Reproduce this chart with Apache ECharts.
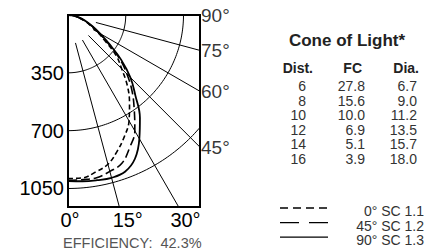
<!DOCTYPE html>
<html>
<head>
<meta charset="utf-8">
<script src="https://cdn.jsdelivr.net/npm/echarts@6/dist/echarts.min.js"></script>
<style>
  html, body { margin: 0; padding: 0; background: #fff; }
  #chart { width: 437px; height: 251px; }
</style>
</head>
<body>
<div id="chart"></div>
<script>
// candela distribution (angle from nadir, degrees)
const angles = [0, 5, 10, 15, 20, 25, 30, 35, 40, 45, 50, 55, 60, 65, 70, 75, 80, 85, 90];
const sc0  = [990, 990, 965, 935, 875, 810, 740, 650, 560, 460, 380, 275, 205, 150, 110, 75, 50, 25, 0];
const sc45 = [1000, 1000, 1000, 980, 955, 885, 810, 700, 605, 505, 405, 295, 215, 160, 115, 80, 50, 25, 0];
const sc90 = [1005, 1010, 1015, 1020, 1010, 960, 865, 760, 635, 535, 420, 305, 225, 165, 120, 85, 55, 30, 0];
const seriesNames = ['0° SC 1.1', '45° SC 1.2', '90° SC 1.3'];

// grid rings / rays
const ringValues = [350, 700, 1050];
const rayAngles = [15, 30, 45, 60, 75];
const edgeLabelAngles = [90, 75, 60, 45];
const bottomLabels = { 0: '0°', 350: '15°', 700: '30°' };

// cone of light table
const coneDist = ['6', '8', '10', '12', '14', '16'];
const coneFC = ['27.8', '15.6', '10.0', '6.9', '5.1', '3.9'];
const coneDia = ['6.7', '9.0', '11.2', '13.5', '15.7', '18.0'];
const efficiency = '42.3%';

const X_MAX = 800;   // right edge of box in candela units
const Y_MAX = 1162;  // bottom edge of box
const FONT = "'Liberation Sans', Arial, Helvetica, sans-serif";

const rad = d => d * Math.PI / 180;
const toXY = (c, deg) => [c * Math.sin(rad(deg)), c * Math.cos(rad(deg))];

const chart = echarts.init(document.getElementById('chart'), null, { renderer: 'svg' });

// rings as polylines, clipped by the grid
const ringSeries = ringValues.map(r => ({
  type: 'line',
  data: Array.from({ length: 91 }, (_, i) => toXY(r, i)),
  symbol: 'none',
  silent: true,
  lineStyle: { color: '#000', width: 1 },
  z: 1
}));

const raySeries = rayAngles.map(a => {
  const s = Math.sin(rad(a)), c = Math.cos(rad(a));
  const R = Math.min(X_MAX / s, Y_MAX / c);
  return {
    type: 'line',
    data: [toXY(175, a), toXY(R, a)],
    symbol: 'none',
    silent: true,
    lineStyle: { color: '#000', width: 1 },
    z: 1
  };
});

const curveDash = [[5, 3], [9, 4], 'solid'];
const legendDash = [[8, 5], [19, 10], null];

const curveSeries = [sc0, sc45, sc90].map((vals, i) => ({
  name: seriesNames[i],
  type: 'line',
  data: vals.map((v, k) => toXY(v, angles[k])),
  smooth: 0.4,
  symbol: 'none',
  lineStyle: { color: '#000', width: i === 2 ? 1.8 : 1.6, type: curveDash[i] },
  z: 3
}));

const edgeLabelSeries = {
  type: 'scatter',
  symbolSize: 0,
  silent: true,
  clip: false,
  data: edgeLabelAngles.map(a => [X_MAX, X_MAX / Math.tan(rad(a)), a]),
  label: {
    show: true,
    position: 'right',
    distance: 1,
    formatter: p => p.data[2] + '°',
    color: '#000',
    fontSize: 19,
    fontFamily: FONT
  }
};

// table + legend graphics
const graphics = [];
graphics.push({
  type: 'text', x: 347, y: 40,
  style: { text: 'Cone of Light*', fill: '#222', font: 'bold 17px ' + FONT, align: 'center', verticalAlign: 'middle' }
});
const headers = [['Dist.', 313], ['FC', 362], ['Dia.', 419]];
headers.forEach(h => graphics.push({
  type: 'text', x: h[1], y: 68,
  style: { text: h[0], fill: '#222', font: 'bold 14px ' + FONT, align: 'right', verticalAlign: 'middle' }
}));
coneDist.forEach((d, i) => {
  const y = 86 + i * 14.6;
  [[d, 306], [coneFC[i], 365], [coneDia[i], 417]].forEach(c => graphics.push({
    type: 'text', x: c[1], y: y,
    style: { text: c[0], fill: '#333', font: '14px ' + FONT, align: 'right', verticalAlign: 'middle' }
  }));
});
seriesNames.forEach((n, i) => {
  const y = 211 + i * 14.6;
  graphics.push({
    type: 'line', silent: true,
    shape: { x1: 280, y1: y - 3, x2: 328, y2: y - 3 },
    style: { stroke: '#000', lineWidth: 1.3, lineDash: legendDash[i] }
  });
  graphics.push({
    type: 'text', x: 424, y: y,
    style: { text: n, fill: '#333', font: '14px ' + FONT, align: 'right', verticalAlign: 'middle' }
  });
});
graphics.push({
  type: 'text', x: 63, y: 243,
  style: { text: 'EFFICIENCY:  ' + efficiency, fill: '#555', font: '14.5px ' + FONT, align: 'left', verticalAlign: 'middle' }
});

chart.setOption({
  animation: false,
  grid: {
    left: 68, top: 15, width: 132, height: 192,
    show: true, borderColor: '#000', borderWidth: 2, backgroundColor: 'transparent'
  },
  xAxis: {
    type: 'value', min: 0, max: X_MAX, interval: 350,
    axisLine: { show: false }, axisTick: { show: false }, splitLine: { show: false },
    axisLabel: {
      margin: 3, color: '#000', fontSize: 20, fontFamily: FONT,
      padding: [0, 0, 0, 4],
      showMaxLabel: false,
      formatter: v => bottomLabels[v] || ''
    }
  },
  yAxis: {
    type: 'value', inverse: true, min: 0, max: Y_MAX, interval: 350,
    axisLine: { show: false }, axisTick: { show: false }, splitLine: { show: false },
    axisLabel: {
      margin: 4, color: '#000', fontSize: 20, fontFamily: FONT,
      showMinLabel: false, showMaxLabel: false,
      formatter: v => ringValues.includes(v) ? String(v) : ''
    }
  },
  graphic: graphics,
  series: [...ringSeries, ...raySeries, ...curveSeries, edgeLabelSeries]
});
</script>
</body>
</html>
